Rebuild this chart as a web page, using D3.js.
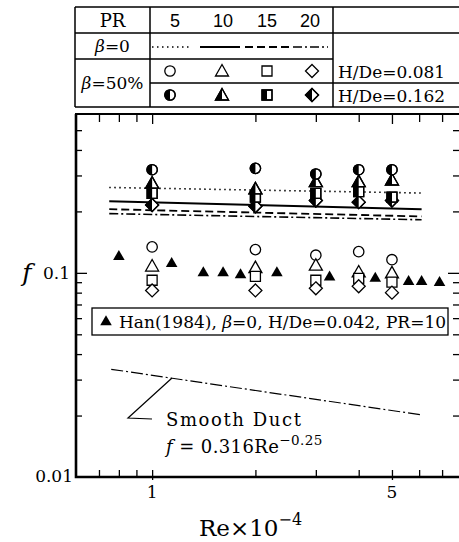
<!DOCTYPE html>
<html>
<head>
<meta charset="utf-8">
<script src="https://cdn.jsdelivr.net/npm/d3@7"></script>
<style>
  body { margin: 0; background: #fff; }
  svg { display: block; }
  text { fill: #000; }
</style>
</head>
<body>
<svg id="chart" width="459" height="542"></svg>
<script>
// Re x 10^-4 positions of the measured points
const reData = [1, 2, 3, 4, 5];

// beta = 50%, H/De = 0.081 (open symbols), PR = 5, 10, 15, 20
const fCircle081 = [0.134, 0.130, 0.122, 0.127, 0.116];
const fTriangle081 = [0.108, 0.106, 0.109, 0.101, 0.100];
const fSquare081 = [0.092, 0.096, 0.092, 0.094, 0.090];
const fDiamond081 = [0.082, 0.082, 0.084, 0.086, 0.080];

// beta = 50%, H/De = 0.162 (half filled symbols)
const fCircle162 = [0.320, 0.325, 0.305, 0.320, 0.320];
const fTriangle162 = [0.275, 0.258, 0.280, 0.280, 0.285];
const fSquare162 = [0.245, 0.235, 0.245, 0.250, 0.235];
const fDiamond162 = [0.215, 0.212, 0.226, 0.222, 0.226];

// beta = 0 lines, PR = 5, 10, 15, 20
const reLine = [0.75, 6.1];
const fLinePR5 = [0.262, 0.246];
const fLinePR10 = [0.224, 0.205];
const fLinePR15 = [0.205, 0.189];
const fLinePR20 = [0.195, 0.182];

// Han (1984)
const reHan = [0.80, 1.14, 1.41, 1.61, 1.81, 2.31, 3.29, 4.0, 4.47, 5.59, 6.1, 6.88];
const fHan = [0.120, 0.111, 0.100, 0.0998, 0.0977, 0.0998, 0.0952, 0.0944, 0.094, 0.0906, 0.0906, 0.0895];

// smooth duct
const reSmooth = [0.76, 6.04];
const fSmooth = [0.0337, 0.0202];

// ticks
const xMinorTicks = [0.7, 0.8, 0.9, 2, 3, 4, 6, 7, 8];
const xMajorTicks = [1, 5];
const yMinorTicks = [0.02, 0.03, 0.04, 0.05, 0.06, 0.07, 0.08, 0.09, 0.2, 0.3, 0.4, 0.5];
const yMajorTicks = [0.1];
const prLabels = ['5', '10', '15', '20'];

const svg = d3.select('#chart');
const serif = "'DejaVu Serif', 'Liberation Serif', serif";

const L = 76, R = 462, T = 114, B = 477;
const x = d3.scaleLog().domain([0.6, 8]).range([L, R]);
const y = d3.scaleLog().domain([0.01, 0.6]).range([B, T]);

// ---- symbols ----
const defs = svg.append('defs');
defs.append('clipPath').attr('id', 'lefthalf')
  .append('rect').attr('x', -20).attr('y', -20).attr('width', 20).attr('height', 40);

function shapePath (kind) {
  if (kind === 'circle') return d3.symbol(d3.symbolCircle, 85)();
  if (kind === 'triangle') return 'M0,-6.5L6.5,5L-6.5,5Z';
  if (kind === 'square') return 'M-5,-5L5,-5L5,5L-5,5Z';
  return 'M0,-6.5L6.5,0L0,6.5L-6.5,0Z';
}

function drawSymbol (g, kind, cx, cy, half) {
  const s = g.append('g').attr('transform', `translate(${cx},${cy})`);
  s.append('path').attr('d', shapePath(kind))
    .attr('fill', '#fff').attr('stroke', '#000').attr('stroke-width', 1.3);
  if (half) {
    s.append('path').attr('d', shapePath(kind))
      .attr('fill', '#000').attr('clip-path', 'url(#lefthalf)');
    s.append('path').attr('d', shapePath(kind))
      .attr('fill', 'none').attr('stroke', '#000').attr('stroke-width', 1.3);
  }
}

// ---- frame and ticks ----
const frame = svg.append('g');
frame.append('rect').attr('x', L).attr('y', T).attr('width', R - L).attr('height', B - T)
  .attr('fill', 'none').attr('stroke', '#000').attr('stroke-width', 2);
frame.append('path').attr('d', `M${L},${T}V${B}H${R}`)
  .attr('fill', 'none').attr('stroke', '#000').attr('stroke-width', 2.6);

function tickAxis (axis, vals, size, tr) {
  const g = svg.append('g').attr('transform', tr)
    .call(axis.tickValues(vals).tickSize(size).tickFormat(''));
  g.select('.domain').remove();
  g.selectAll('line').attr('stroke-width', 1.3);
}
tickAxis(d3.axisTop(x), xMinorTicks, 7, `translate(0,${B})`);
tickAxis(d3.axisTop(x), xMajorTicks, 10, `translate(0,${B + 3})`);
tickAxis(d3.axisBottom(x), xMinorTicks, 8, `translate(0,${T})`);
tickAxis(d3.axisBottom(x), xMajorTicks, 10, `translate(0,${T})`);
tickAxis(d3.axisRight(y), yMinorTicks, 6, `translate(${L},0)`);
tickAxis(d3.axisRight(y), yMajorTicks, 11, `translate(${L},0)`);
tickAxis(d3.axisLeft(y), yMinorTicks, 9, `translate(${R},0)`);
tickAxis(d3.axisLeft(y), yMajorTicks, 14, `translate(${R},0)`);

// tick labels
svg.append('text').attr('x', 70).attr('y', y(0.1) + 6).attr('text-anchor', 'end')
  .attr('font-family', serif).attr('font-size', 17).text('0.1');
svg.append('text').attr('x', 73).attr('y', B + 5).attr('text-anchor', 'end')
  .attr('font-family', serif).attr('font-size', 17).text('0.01');
xMajorTicks.forEach(v => {
  svg.append('text').attr('x', x(v)).attr('y', 498).attr('text-anchor', 'middle')
    .attr('font-family', serif).attr('font-size', 17).text(v);
});
svg.append('text').attr('x', 27).attr('y', 281).attr('text-anchor', 'middle')
  .attr('font-family', serif).attr('font-style', 'italic').attr('font-size', 25).text('f');

const xl = svg.append('text').attr('x', 199).attr('y', 536)
  .attr('font-family', serif).attr('font-size', 23);
xl.append('tspan').text('Re\u00d710');
xl.append('tspan').attr('dy', -11).attr('font-size', 16).text('\u22124');

// ---- beta = 0 lines ----
const lineGen = d3.line().x(d => x(d[0])).y(d => y(d[1]));
const lineSeries = [
  { f: fLinePR5, dash: '1.5,3.5', w: 1.6 },
  { f: fLinePR10, dash: null, w: 2 },
  { f: fLinePR15, dash: '8,4', w: 1.8 },
  { f: fLinePR20, dash: '9,3,2,3', w: 1.6 }
];
lineSeries.forEach(s => {
  svg.append('path').datum(reLine.map((r, i) => [r, s.f[i]]))
    .attr('d', lineGen).attr('fill', 'none').attr('stroke', '#000')
    .attr('stroke-width', s.w).attr('stroke-dasharray', s.dash);
});

// ---- smooth duct ----
svg.append('path').datum(reSmooth.map((r, i) => [r, fSmooth[i]]))
  .attr('d', lineGen).attr('fill', 'none').attr('stroke', '#000')
  .attr('stroke-width', 1.2).attr('stroke-dasharray', '12,3,2,3');
svg.append('path').attr('d', 'M172,378L128,418L152,419')
  .attr('fill', 'none').attr('stroke', '#000').attr('stroke-width', 1.2);
svg.append('text').attr('x', 166).attr('y', 426)
  .attr('font-family', serif).attr('font-size', 18).attr('letter-spacing', 1.6).text('Smooth Duct');
const eq = svg.append('text').attr('x', 166).attr('y', 453)
  .attr('font-family', serif).attr('font-size', 18).attr('letter-spacing', 0.4);
eq.append('tspan').attr('font-style', 'italic').text('f');
eq.append('tspan').text(' = 0.316Re');
eq.append('tspan').attr('dy', -8).attr('font-size', 13.5).text('\u22120.25');

// ---- Han (1984) ----
const tri = d3.symbol(d3.symbolTriangle, 58);
svg.append('g').selectAll('path').data(reHan.map((r, i) => [r, fHan[i]]))
  .join('path').attr('d', tri)
  .attr('transform', d => `translate(${x(d[0])},${y(d[1])})`).attr('fill', '#000');

// ---- beta = 50% symbols ----
const kinds = ['circle', 'triangle', 'square', 'diamond'];
const open = svg.append('g');
[fCircle081, fTriangle081, fSquare081, fDiamond081].forEach((arr, k) => {
  arr.forEach((f, i) => drawSymbol(open, kinds[k], x(reData[i]), y(f), false));
});
const half = svg.append('g');
[fDiamond162, fSquare162, fTriangle162, fCircle162].forEach((arr, k) => {
  arr.forEach((f, i) => drawSymbol(half, kinds[3 - k], x(reData[i]), y(f), true));
});

// ---- Han legend box ----
svg.append('rect').attr('x', 92).attr('y', 308).attr('width', 356).attr('height', 27)
  .attr('fill', '#fff').attr('stroke', '#000').attr('stroke-width', 1.3);
svg.append('path').attr('d', tri).attr('transform', 'translate(106,322)').attr('fill', '#000');
const hl = svg.append('text').attr('x', 119).attr('y', 328)
  .attr('font-family', serif).attr('font-size', 17);
hl.append('tspan').text('Han(1984), ');
hl.append('tspan').attr('font-style', 'italic').text('\u03b2');
hl.append('tspan').text('=0, H/De=0.042, PR=10');

// ---- top table ----
const tb = svg.append('g').attr('stroke', '#000').attr('stroke-width', 1.5);
const tL = 75, tC1 = 150, tC2 = 333, tR = 470;
const r0 = 7, r1 = 33, r2 = 59, r3 = 83, r4 = 107;
tb.append('path').attr('fill', 'none').attr('d',
  `M${tL},${r0}H${tR}M${tL},${r1}H${tR}M${tL},${r2}H${tC2}M${tC1},${r3}H${tR}M${tL},${r4}H${tR}` +
  `M${tL},${r0}V${r4}M${tC1},${r0}V${r4}M${tC2},${r0}V${r4}`);

const colX = [175, 223, 267, 310];
svg.append('text').attr('x', (tL + tC1) / 2).attr('y', r1 - 6).attr('text-anchor', 'middle')
  .attr('font-family', serif).attr('font-size', 18).text('PR');
prLabels.forEach((t, i) => {
  svg.append('text').attr('x', colX[i]).attr('y', r1 - 6).attr('text-anchor', 'middle')
    .attr('font-family', "'Liberation Sans', Arial, sans-serif").attr('font-size', 18).text(t);
});
const b0 = svg.append('text').attr('x', (tL + tC1) / 2).attr('y', r2 - 7).attr('text-anchor', 'middle')
  .attr('font-family', serif).attr('font-size', 17);
b0.append('tspan').attr('font-style', 'italic').text('\u03b2');
b0.append('tspan').text('=0');
const b50 = svg.append('text').attr('x', (tL + tC1) / 2).attr('y', (r2 + r4) / 2 + 6).attr('text-anchor', 'middle')
  .attr('font-family', serif).attr('font-size', 17);
b50.append('tspan').attr('font-style', 'italic').text('\u03b2');
b50.append('tspan').text('=50%');

// line samples
const sampleX = [[152, 190], [200, 240], [245, 290], [293, 328]];
lineSeries.forEach((s, i) => {
  svg.append('line').attr('x1', sampleX[i][0]).attr('x2', sampleX[i][1])
    .attr('y1', (r1 + r2) / 2 + 1).attr('y2', (r1 + r2) / 2 + 1)
    .attr('stroke', '#000').attr('stroke-width', s.w).attr('stroke-dasharray', s.dash);
});
const symX = [170, 222, 267, 312];
kinds.forEach((k, i) => {
  drawSymbol(svg, k, symX[i], (r2 + r3) / 2, false);
  drawSymbol(svg, k, symX[i], (r3 + r4) / 2, true);
});
svg.append('text').attr('x', 338).attr('y', 78)
  .attr('font-family', serif).attr('font-size', 17).text('H/De=0.081');
svg.append('text').attr('x', 338).attr('y', 102)
  .attr('font-family', serif).attr('font-size', 17).text('H/De=0.162');
</script>
</body>
</html>
